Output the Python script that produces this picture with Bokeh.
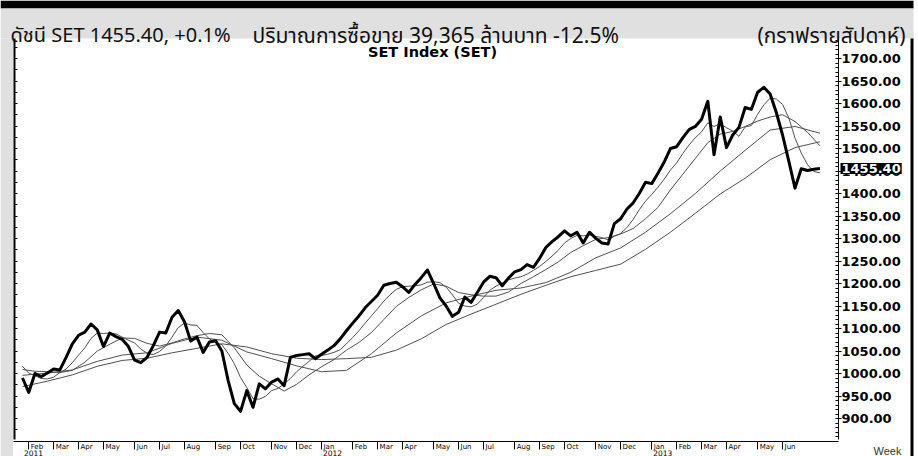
import numpy as np
import pandas as pd
from bokeh.plotting import figure
from bokeh.models import (Range1d, LinearAxis, FixedTicker, SingleIntervalTicker,
                          NumeralTickFormatter, Label, BoxAnnotation, CustomLabelingPolicy)
from bokeh.embed import file_html
from bokeh.resources import INLINE

# ---------------- data ----------------
first_week = "2011-01-31"   # Monday of the first weekly bar

set_close = [990, 958, 1000, 993, 1001, 1010, 1008, 1036, 1066, 1085,
             1092, 1110, 1097, 1060, 1090, 1082, 1076, 1060, 1030, 1024,
             1036, 1062, 1092, 1090, 1125, 1140, 1115, 1072, 1081, 1047,
             1070, 1073, 1050, 985, 933, 916, 962, 925, 977, 966,
             981, 988, 973, 1036, 1040, 1042, 1044, 1033, 1043, 1052,
             1062, 1077, 1095, 1112, 1128, 1146, 1160, 1174, 1196, 1200,
             1203, 1193, 1180, 1198, 1213, 1230, 1200, 1168, 1150, 1127,
             1136, 1170, 1158, 1180, 1203, 1216, 1213, 1195, 1212, 1226,
             1231, 1242, 1236, 1256, 1280, 1293, 1304, 1317, 1306, 1314,
             1290, 1314, 1301, 1290, 1288, 1333, 1344, 1365, 1379, 1400,
             1425, 1422, 1445, 1470, 1500, 1504, 1524, 1542, 1549, 1565,
             1605, 1486, 1570, 1502, 1530, 1547, 1591, 1587, 1625, 1636,
             1621, 1580, 1530, 1472, 1412, 1455, 1451, 1454, 1455.40]

# fast average line, one value per week
ma5 = [1016, 1001, 995, 989, 988, 992, 1002, 1010, 1024, 1041,
       1057, 1078, 1090, 1089, 1090, 1088, 1081, 1074, 1068, 1054,
       1045, 1042, 1049, 1061, 1081, 1102, 1112, 1108, 1107, 1091,
       1077, 1069, 1064, 1045, 1022, 991, 969, 944, 943, 949,
       962, 967, 977, 989, 1004, 1016, 1027, 1039, 1040, 1043,
       1047, 1053, 1066, 1080, 1095, 1112, 1128, 1144, 1161, 1175,
       1187, 1193, 1194, 1195, 1197, 1203, 1204, 1202, 1192, 1175,
       1156, 1150, 1148, 1154, 1169, 1185, 1194, 1201, 1208, 1212,
       1215, 1221, 1229, 1238, 1249, 1261, 1274, 1290, 1300, 1307,
       1306, 1308, 1305, 1302, 1297, 1305, 1311, 1324, 1342, 1364,
       1383, 1398, 1414, 1432, 1452, 1468, 1489, 1508, 1524, 1537,
       1557, 1549, 1555, 1546, 1539, 1527, 1548, 1551, 1576, 1597,
       1612, 1610, 1598, 1568, 1523, 1490, 1464, 1449, 1446]
# medium average line, read every 2nd week
ma10 = [1009, 1005, 1004, 1002, 1007, 1025, 1050, 1065, 1079, 1078,
        1067, 1061, 1068, 1077, 1084, 1089, 1086, 1057, 1019, 994,
        977, 961, 976, 997, 1015, 1031, 1052, 1069, 1091, 1120,
        1149, 1169, 1186, 1199, 1194, 1180, 1175, 1172, 1172, 1181,
        1200, 1215, 1231, 1248, 1269, 1284, 1298, 1302, 1310, 1322,
        1344, 1369, 1408, 1443, 1478, 1513, 1532, 1538, 1549, 1561,
        1570, 1575, 1560, 1536, 1506]
# slow average lines, read every 4th week
ma20 = [996, 1001, 1008, 1027, 1041, 1046, 1067, 1081, 1074, 1048,
        1033, 1017, 1004, 1007, 1044, 1090, 1128, 1157, 1172, 1185,
        1190, 1202, 1225, 1257, 1279, 1314, 1355, 1400, 1450, 1496,
        1541, 1549, 1534]
ma30 = [971, 983, 997, 1016, 1029, 1034, 1046, 1056, 1066, 1059,
        1044, 1034, 1031, 1033, 1036, 1052, 1077, 1109, 1132, 1154,
        1176, 1196, 1215, 1229, 1243, 1276, 1314, 1356, 1399, 1434,
        1475, 1502, 1515]

header_left = "ดัชนี SET 1455.40, +0.1%"
header_mid = "ปริมาณการซื้อขาย 39,365 ล้านบาท -12.5%"
header_right = "(กราฟรายสัปดาห์)"
chart_title = "SET Index (SET)"
period_label = "Week"

# ---------------- derived axis data ----------------
n = len(set_close)
weeks = pd.date_range(first_week, periods=n, freq="7D")
bars = np.arange(n)

month_bars, month_names = [], []
year_bars, year_names = [0], [str(weeks[0].year)]
for i in range(1, n):
    if weeks[i].month != weeks[i - 1].month:
        cnt = sum(1 for d in weeks[i:] if (d.year, d.month) == (weeks[i].year, weeks[i].month))
        if cnt >= 4:
            month_bars.append(int(i))
            month_names.append(weeks[i].strftime("%b"))
        if weeks[i].year != weeks[i - 1].year:
            year_bars.append(int(i))
            year_names.append(str(weeks[i].year))

# ---------------- figure (frame = whole canvas, axes at fixed locations) ----------------
W, H = 918, 456
X_LEFT, X_RIGHT = -3.531, 143.82        # bar units across the canvas
Y_BOTTOM, Y_TOP = 815.6, 1828.9         # index units across the canvas
AX_LEFT, AX_RIGHT = -1.284, 130.98      # chart panel edges (bar units)
AX_BASE = 849.6                         # chart panel bottom (index units)
TICK_FLOOR = 853.0                      # lowest end of the price axes
PANEL_TOP = 1744.4                      # chart panel top (index units)

p = figure(width=W, height=H, output_backend="svg", toolbar_location=None,
           x_range=Range1d(X_LEFT, X_RIGHT), y_range=Range1d(Y_BOTTOM, Y_TOP),
           x_axis_location=None, y_axis_location=None, title=None,
           min_border_left=0, min_border_right=0, min_border_top=0, min_border_bottom=0)
p.outline_line_color = None
p.xgrid.visible = False
p.ygrid.visible = False
p.background_fill_color = "white"
p.border_fill_color = "white"

# chrome: top bar, header band, left strip, right border
grey = "#e0e0e0"
for (l, r, t, b, c) in [(0, 913, 0, 8, "black"), (0, 913, 8, 38, grey),
                        (0, 12.5, 38, H, grey), (910, 913, 38, H, "black")]:
    p.add_layout(BoxAnnotation(left=l, right=r, top=t, bottom=b,
                               left_units="canvas", right_units="canvas",
                               top_units="canvas", bottom_units="canvas",
                               fill_color=c, fill_alpha=1.0, line_color=None,
                               level="underlay"))

# price axis (right)
yax = LinearAxis(ticker=SingleIntervalTicker(interval=50, num_minor_ticks=5),
                 formatter=NumeralTickFormatter(format="0.00"),
                 fixed_location=AX_RIGHT, bounds=(TICK_FLOOR, PANEL_TOP))
yax.major_label_text_font = "DejaVu Sans"
yax.major_label_text_font_style = "bold"
yax.major_label_text_font_size = "13px"
yax.major_label_text_color = "black"
yax.major_label_standoff = 0
yax.major_tick_out = 3
yax.major_tick_in = 0
yax.minor_tick_in = 3
yax.minor_tick_out = 0
yax.axis_line_color = "black"
p.add_layout(yax, "right")

# left edge with inner ticks
lax = LinearAxis(ticker=SingleIntervalTicker(interval=25, num_minor_ticks=0),
                 fixed_location=AX_LEFT, bounds=(TICK_FLOOR, PANEL_TOP))
lax.major_label_policy = CustomLabelingPolicy(code="return []")
lax.major_tick_in = 3
lax.major_tick_out = 0
lax.minor_tick_in = 0
lax.minor_tick_out = 0
lax.axis_line_width = 2
lax.axis_line_color = "black"
p.add_layout(lax, "left")

# time axis (bottom) with month separators
xax = LinearAxis(ticker=FixedTicker(ticks=month_bars, minor_ticks=[]),
                 fixed_location=AX_BASE, bounds=(-1.445, AX_RIGHT))
xax.major_label_policy = CustomLabelingPolicy(code="return []")
xax.major_tick_out = 8
xax.major_tick_in = 0
xax.minor_tick_in = 0
xax.minor_tick_out = 0
xax.axis_line_color = "black"
p.add_layout(xax, "below")

# lines
ma_color = "#505050"
p.line(np.arange(0, n, 4), ma30, line_width=1, color=ma_color)
p.line(np.arange(0, n, 4), ma20, line_width=1, color=ma_color)
p.line(np.arange(0, n, 2), ma10, line_width=1, color=ma_color)
p.line(bars, ma5, line_width=1, color=ma_color)
p.line(bars, set_close, line_width=3, color="black", line_join="round")

# month and year labels
for b, name in zip(month_bars, month_names):
    p.add_layout(Label(x=b, y=442, x_units="data", y_units="canvas",
                       text=name, text_font="DejaVu Sans", text_font_size="7px",
                       text_align="left", text_baseline="top", x_offset=2,
                       text_color="black"))
for b, name in zip(year_bars, year_names):
    p.add_layout(Label(x=b, y=449, x_units="data", y_units="canvas",
                       text=name, text_font="DejaVu Sans", text_font_size="7.5px",
                       text_align="left", text_baseline="top", x_offset=1.5,
                       text_color="black"))

# header texts
hfont = "Noto Sans, Noto Sans Thai, sans-serif"
p.add_layout(Label(x=10, y=34, x_units="canvas", y_units="canvas", text=header_left,
                   text_font=hfont, text_font_size="20px", text_baseline="alphabetic",
                   text_align="left", text_color="#111111"))
p.add_layout(Label(x=252, y=34, x_units="canvas", y_units="canvas", text=header_mid,
                   text_font=hfont, text_font_size="21px", text_baseline="alphabetic",
                   text_align="left", text_color="#111111"))
p.add_layout(Label(x=905, y=34, x_units="canvas", y_units="canvas", text=header_right,
                   text_font=hfont, text_font_size="21px", text_baseline="alphabetic",
                   text_align="right", text_color="#111111"))

# chart title inside the panel
p.add_layout(Label(x=432, y=51, x_units="canvas", y_units="canvas", text=chart_title,
                   text_font="DejaVu Sans", text_font_style="bold", text_font_size="14.5px",
                   text_align="center", text_baseline="alphabetic", text_color="black"))

# last value marker on the price axis
p.add_layout(Label(x=840, y=set_close[-1], x_units="canvas", y_units="data",
                   text=f"{set_close[-1]:.2f}", text_font="DejaVu Sans",
                   text_font_style="bold", text_font_size="13px",
                   text_align="left", text_baseline="middle", text_color="white",
                   background_fill_color="black", padding=1))

p.add_layout(Label(x=887, y=450, x_units="canvas", y_units="canvas", text=period_label,
                   text_font="Liberation Sans", text_font_size="11px",
                   text_align="center", text_baseline="alphabetic", text_color="#333333"))

open("out.html", "w").write(file_html(p, INLINE))
